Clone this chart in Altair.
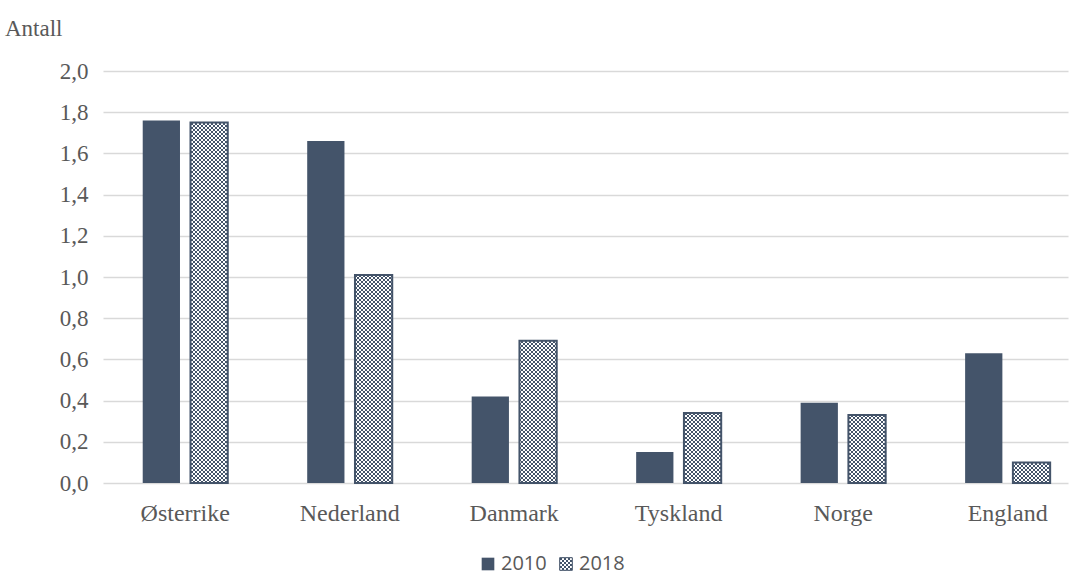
import altair as alt
import pandas as pd

countries = ["Østerrike", "Nederland", "Danmark", "Tyskland", "Norge", "England"]
values_2010 = [1.76, 1.66, 0.42, 0.15, 0.39, 0.63]
values_2018 = [1.75, 1.01, 0.69, 0.34, 0.33, 0.10]
years = ["2010", "2018"]
y_ticks = [0.0, 0.2, 0.4, 0.6, 0.8, 1.0, 1.2, 1.4, 1.6, 1.8, 2.0]

rows = []
for c, a, b in zip(countries, values_2010, values_2018):
    rows.append({"land": c, "år": years[0], "antall": a})
    rows.append({"land": c, "år": years[1], "antall": b})
df = pd.DataFrame(rows)

DARK = "#44546a"
CHECK = "url(#checker)"
TEXT = "#595959"

bars = alt.Chart(df).mark_bar(strokeWidth=2).encode(
    x=alt.X(
        "land:N",
        sort=countries,
        scale=alt.Scale(paddingInner=0.483, paddingOuter=0.175, align=0.69),
        axis=alt.Axis(
            title=None,
            labelAngle=0,
            labelFont="Liberation Serif",
            labelFontSize=24,
            labelColor=TEXT,
            labelPadding=18,
            ticks=False,
            domain=False,
        ),
    ),
    xOffset=alt.XOffset("år:N", scale=alt.Scale(paddingInner=0.22)),
    y=alt.Y(
        "antall:Q",
        scale=alt.Scale(domain=[0, 2.0], nice=False),
        axis=alt.Axis(
            title=None,
            values=y_ticks,
            labelExpr="replace(format(datum.value, '.1f'), '.', ',')",
            labelFont="Liberation Serif",
            labelFontSize=23,
            labelColor=TEXT,
            labelPadding=15,
            ticks=False,
            domain=False,
            gridColor="#d9d9d9",
            gridWidth=1.5,
        ),
    ),
    fill=alt.Fill(
        "år:N",
        scale=alt.Scale(domain=years, range=[DARK, CHECK]),
        legend=alt.Legend(
            title=None,
            orient="none",
            direction="horizontal",
            legendX=375,
            legendY=483,
            symbolType="square",
            symbolSize=160,
            symbolStrokeColor=DARK,
            symbolStrokeWidth=1,
            labelFont="Open Sans",
            labelFontSize=20,
            labelColor=TEXT,
            columnPadding=9,
            labelOffset=3,
        ),
    ),
    stroke=alt.Stroke(
        "år:N",
        scale=alt.Scale(domain=years, range=["#44546a00", DARK]),
        legend=None,
    ),
)

unit = alt.Chart(pd.DataFrame({"t": ["Antall"]})).mark_text(
    font="Liberation Serif", fontSize=23, color=TEXT, align="left", baseline="middle"
).encode(x=alt.value(-98), y=alt.value(-42), text="t:N")

chart = (
    alt.layer(bars, unit)
    .properties(
        width=965,
        height=412,
        autosize=alt.AutoSizeParams(type="none"),
        padding={"left": 103, "top": 71, "right": 10, "bottom": 94},
    )
    .configure_view(stroke=None)
)

chart.save("out.html", embed_options={"renderer": "svg", "actions": False})

# Checkerboard fill used by the 2018 bars and their legend swatch.
pattern = (
    '<svg width="0" height="0" style="position:absolute">'
    '<defs><pattern id="checker" patternUnits="userSpaceOnUse" width="4" height="4">'
    '<rect width="4" height="4" fill="#ffffff"/>'
    '<rect width="2" height="2" fill="#44546a"/>'
    '<rect x="2" y="2" width="2" height="2" fill="#44546a"/>'
    "</pattern></defs></svg>"
)
with open("out.html", encoding="utf-8") as f:
    html = f.read()
html = html.replace("<body>", "<body>" + pattern, 1)
with open("out.html", "w", encoding="utf-8") as f:
    f.write(html)
